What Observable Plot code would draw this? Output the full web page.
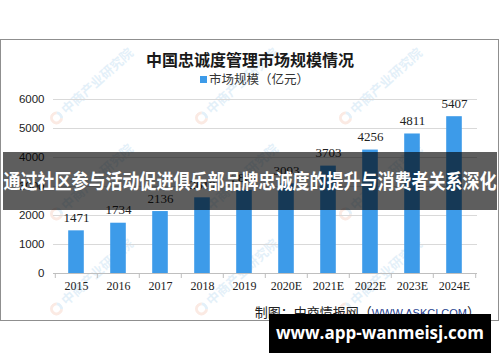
<!DOCTYPE html>
<html><head><meta charset="utf-8">
<script src="https://cdn.jsdelivr.net/npm/d3@7"></script>
<script src="https://cdn.jsdelivr.net/npm/@observablehq/plot@0.6"></script>
<style>
body{margin:0;background:#fff;}
#wrap{position:relative;width:500px;height:362px;overflow:hidden;font-family:"Noto Sans CJK SC",sans-serif;}
#frame{position:absolute;left:0;top:39px;width:497px;height:280px;border:1.5px solid #8f8f8f;overflow:hidden;}
.wm{position:absolute;color:#5aa7dc;opacity:0.16;font-size:13px;font-weight:bold;white-space:nowrap;transform-origin:0 50%;transform:rotate(-42deg);}
.wm b{display:inline-block;width:13px;height:13px;border-radius:50%;border:3px solid #e8825a;border-right-color:#5aa7dc;box-sizing:border-box;margin-right:3px;vertical-align:-2px;}
#title{position:absolute;left:0;width:500px;top:47px;text-align:center;font-size:16px;font-weight:bold;color:#1a1a1a;}
#legend{position:absolute;left:200px;top:69px;font-size:12.5px;color:#333;white-space:nowrap;}
#legend i{display:inline-block;width:7px;height:7px;background:#3d9be9;margin-right:2px;vertical-align:1px;}
#source{position:absolute;right:20px;top:302px;font-size:13px;color:#222;white-space:nowrap;}
#source span{font-family:"Liberation Sans",sans-serif;font-size:11px;color:#1f3f8f;}
#banner{position:absolute;left:3px;top:152px;width:494px;height:58px;background:rgba(0,0,0,0.63);z-index:5;}
#banner div{position:absolute;left:50%;top:50%;transform:translate(-50%,-52%) scaleX(0.85);color:#fff;font-weight:bold;font-size:20px;white-space:nowrap;}
#site{position:absolute;left:269px;top:314px;width:222px;height:39px;background:#000;z-index:5;color:#fff;font-family:"Open Sans",sans-serif;font-weight:bold;font-size:17px;line-height:38px;text-align:center;white-space:nowrap;}
#chart{position:absolute;left:0;top:0;}
</style></head>
<body><div id="wrap">
<div id="frame"></div>
<div id="chart"></div>
<div id="title"></div>
<div id="legend"></div>
<div id="source"></div>
<div id="banner"><div></div></div>
<div id="site"></div>
</div>
<script>
const titleText = "中国忠诚度管理市场规模情况";
const legendText = "市场规模（亿元）";
const sourceCn = "制图：中商情报网（";
const sourceEn = "WWW.ASKCI.COM";
const bannerText = "通过社区参与活动促进俱乐部品牌忠诚度的提升与消费者关系深化";
const siteText = "www.app-wanmeisj.com";
const watermarkText = "中商产业研究院";

const years = ["2015","2016","2017","2018","2019","2020E","2021E","2022E","2023E","2024E"];
const values = [1471, 1734, 2136, 2610, 2867, 3093, 3703, 4256, 4811, 5407];
const yTicks = [0, 1000, 2000, 3000, 4000, 5000, 6000];

const data = years.map((y, i) => ({year: y, value: values[i]}));

document.getElementById("title").textContent = titleText;
document.getElementById("legend").innerHTML = "<i></i>" + legendText;
document.getElementById("source").innerHTML = sourceCn + "<span>" + sourceEn + "</span>）";
document.querySelector("#banner div").textContent = bannerText;
document.getElementById("site").textContent = siteText;

// faint background watermarks (inside frame, frame-relative positions)
const wmX = [58, 203, 347];
const wmY = [82, 178, 273];
const frame = document.getElementById("frame");
for (const y of wmY) for (const x of wmX) {
  const s = document.createElement("div");
  s.className = "wm";
  s.style.left = (x - 8) + "px";
  s.style.top = (y - 10) + "px";
  s.innerHTML = "<b></b>" + watermarkText;
  frame.appendChild(s);
}

const W = 500, H = 362;
const mL = 53, mR = 23, mT = 99, mB = 89;
const band = (W - mL - mR) / years.length;
const barW = 16;
const inset = (band - barW) / 2;

const chart = Plot.plot({
  width: W, height: H,
  marginLeft: mL, marginRight: mR, marginTop: mT, marginBottom: mB,
  style: {background: "transparent", fontFamily: "Liberation Sans, sans-serif", fontSize: "12px", color: "#333"},
  x: {type: "band", domain: years, padding: 0},
  y: {domain: [0, 6000]},
  marks: [
    Plot.ruleY(yTicks.filter(d => d > 0), {stroke: "#d9d9d9", strokeWidth: 1}),
    Plot.barY(data, {x: "year", y: "value", fill: "#3d9be9", insetLeft: inset, insetRight: inset}),
    Plot.text(data, {x: "year", y: "value", text: d => String(d.value), dy: -13,
      fontSize: 13, fontFamily: "Liberation Serif, serif", fill: "#222"}),
    Plot.ruleY([0], {stroke: "#bfbfbf", strokeWidth: 1}),
    Plot.ruleX(years, {x: d => d, y1: 0, y2: 0, dx: -band / 2, insetBottom: -5, stroke: "#bfbfbf"}),
    Plot.ruleX(years.slice(-1), {x: d => d, y1: 0, y2: 0, dx: band / 2, insetBottom: -5, stroke: "#bfbfbf"}),
    Plot.axisY({ticks: yTicks, tickSize: 0, tickPadding: 9, fontSize: 11.5, tickFormat: d => String(d), fill: "#222", label: null}),
    Plot.axisX({tickSize: 0, tickPadding: 8, fontSize: 12, fontFamily: "Liberation Serif, serif", fill: "#222", label: null})
  ]
});
document.getElementById("chart").appendChild(chart);
</script>
</body></html>
